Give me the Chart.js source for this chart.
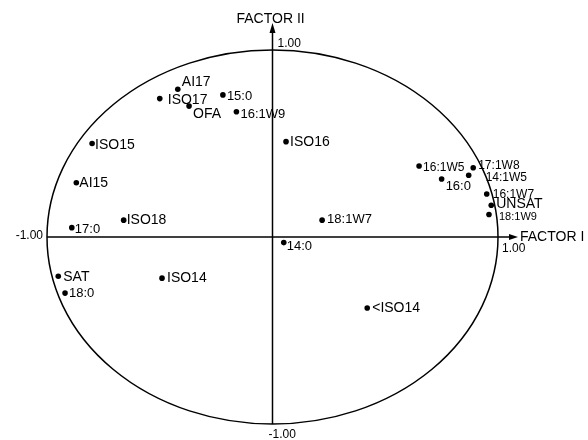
<!DOCTYPE html>
<html>
<head>
<meta charset="utf-8">
<script src="https://cdn.jsdelivr.net/npm/chart.js@4/dist/chart.umd.min.js"></script>
<style>
  html, body { margin: 0; padding: 0; background: #fff; }
  canvas { display: block; }
</style>
</head>
<body>
<canvas id="factorPlot" width="588" height="440"></canvas>
<script>
// loadings on factor I (x) and factor II (y)
const names = ['AI17', 'ISO17', 'OFA', '15:0', '16:1W9', 'ISO16',
  '16:1W5', '17:1W8', '14:1W5', '16:0', '16:1W7', 'UNSAT', '18:1W9',
  'ISO15', 'AI15', '17:0', 'ISO18', 'SAT', '18:0', 'ISO14',
  '14:0', '18:1W7', '<ISO14'];
const factor1 = [-0.42, -0.50, -0.37, -0.22, -0.16, 0.06,
  0.65, 0.89, 0.87, 0.75, 0.95, 0.97, 0.96,
  -0.80, -0.87, -0.89, -0.66, -0.95, -0.92, -0.49,
  0.05, 0.22, 0.42];
const factor2 = [0.79, 0.74, 0.70, 0.76, 0.67, 0.51,
  0.38, 0.37, 0.33, 0.31, 0.23, 0.17, 0.12,
  0.50, 0.29, 0.05, 0.09, -0.21, -0.30, -0.22,
  -0.03, 0.09, -0.38];

// label placement next to each dot: [dx, dy, font size]
const labelPos = {
  'AI17': [4, -3, 14], 'ISO17': [8, 5, 14], 'OFA': [4, 12, 14],
  '15:0': [4, 5, 13], '16:1W9': [4, 6, 13], 'ISO16': [4, 4, 14],
  '16:1W5': [4, 5, 12], '17:1W8': [5, 1, 12], '14:1W5': [17, 6, 12],
  '16:0': [4, 11, 13], '16:1W7': [6, 4, 12], 'UNSAT': [5, 3, 14],
  '18:1W9': [10, 5, 11], 'ISO15': [3, 5, 14], 'AI15': [3, 4, 14],
  '17:0': [3, 5, 13], 'ISO18': [3, 4, 14], 'SAT': [5, 5, 14],
  '18:0': [4, 4, 13], 'ISO14': [5, 4, 14], '14:0': [3, 7, 13],
  '18:1W7': [5, 3, 13], '<ISO14': [5, 4, 14]
};

const pts = names.map((n, i) => ({x: factor1[i], y: factor2[i]}));
const FONT = '"Liberation Sans", Arial, sans-serif';

const factorAxes = {
  id: 'factorAxes',
  beforeDatasetsDraw(chart) {
    const ctx = chart.ctx;
    const sx = chart.scales.x, sy = chart.scales.y;
    const cx = sx.getPixelForValue(0), cy = sy.getPixelForValue(0);
    const rx = sx.getPixelForValue(1) - cx;
    const ry = cy - sy.getPixelForValue(1);
    ctx.save();
    ctx.strokeStyle = '#000';
    ctx.fillStyle = '#000';
    ctx.lineWidth = 1.5;
    ctx.beginPath();
    ctx.ellipse(cx, cy, rx, ry, 0, 0, Math.PI * 2);
    ctx.stroke();

    // factor I axis
    const xEnd = sx.getPixelForValue(1) + 20;
    ctx.beginPath();
    ctx.moveTo(sx.getPixelForValue(-1), cy);
    ctx.lineTo(xEnd - 6, cy);
    ctx.stroke();
    ctx.beginPath();
    ctx.moveTo(xEnd, cy);
    ctx.lineTo(xEnd - 9, cy - 3);
    ctx.lineTo(xEnd - 9, cy + 3);
    ctx.closePath();
    ctx.fill();

    // factor II axis
    const yEnd = sy.getPixelForValue(1) - 27;
    ctx.beginPath();
    ctx.moveTo(cx, sy.getPixelForValue(-1));
    ctx.lineTo(cx, yEnd + 6);
    ctx.stroke();
    ctx.beginPath();
    ctx.moveTo(cx, yEnd);
    ctx.lineTo(cx - 3, yEnd + 10);
    ctx.lineTo(cx + 3, yEnd + 10);
    ctx.closePath();
    ctx.fill();

    ctx.font = '12px ' + FONT;
    ctx.textAlign = 'right';
    ctx.fillText('-1.00', sx.getPixelForValue(-1) - 4, cy + 2);
    ctx.textAlign = 'left';
    ctx.fillText('1.00', sx.getPixelForValue(1) + 4, cy + 15);
    ctx.fillText('1.00', cx + 5, sy.getPixelForValue(1) - 3);
    ctx.fillText('-1.00', cx - 4, sy.getPixelForValue(-1) + 14);
    ctx.font = '14px ' + FONT;
    ctx.fillText('FACTOR I', xEnd + 2, cy + 4);
    ctx.fillText('FACTOR II', cx - 36, yEnd);
    ctx.restore();
  },
  afterDatasetsDraw(chart) {
    const ctx = chart.ctx;
    const meta = chart.getDatasetMeta(0);
    ctx.save();
    ctx.fillStyle = '#000';
    ctx.textAlign = 'left';
    meta.data.forEach((el, i) => {
      const p = labelPos[names[i]] || [4, 5, 13];
      ctx.font = p[2] + 'px ' + FONT;
      ctx.fillText(names[i], el.x + p[0], el.y + p[1]);
    });
    ctx.restore();
  }
};

new Chart(document.getElementById('factorPlot').getContext('2d'), {
  type: 'scatter',
  data: {
    datasets: [{
      label: 'loadings',
      data: pts,
      pointRadius: 2.8,
      pointHoverRadius: 2.8,
      pointBackgroundColor: '#000',
      pointBorderWidth: 0,
      clip: false
    }]
  },
  options: {
    responsive: false,
    animation: false,
    devicePixelRatio: 1,
    layout: { padding: { left: 47, right: 90, top: 50, bottom: 16 } },
    plugins: { legend: { display: false }, tooltip: { enabled: false } },
    scales: {
      x: { type: 'linear', min: -1, max: 1, display: false },
      y: { type: 'linear', min: -1, max: 1, display: false }
    }
  },
  plugins: [factorAxes]
});
</script>
</body>
</html>
